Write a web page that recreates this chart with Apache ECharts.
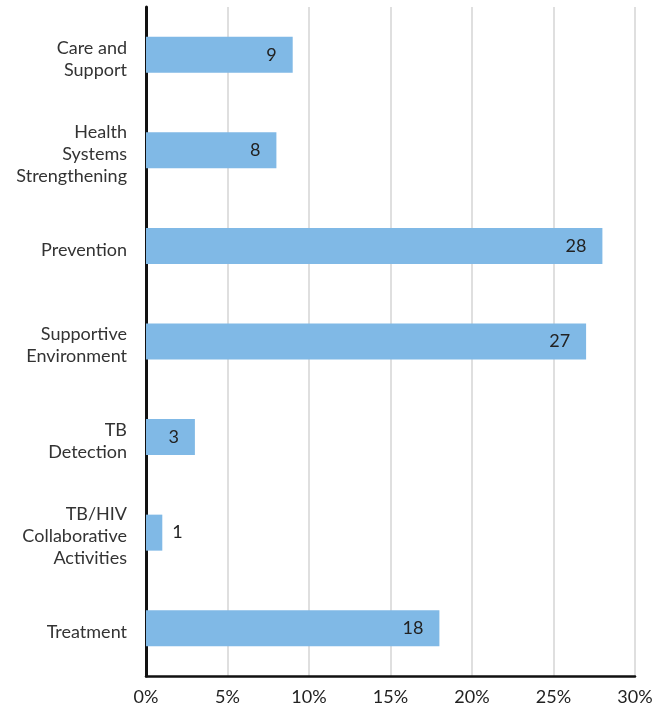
<!DOCTYPE html>
<html><head><meta charset="utf-8">
<script src="https://cdn.jsdelivr.net/npm/echarts@6/dist/echarts.min.js"></script>
<style>html,body{margin:0;padding:0;background:#fff}#c{width:665px;height:708px}</style>
</head><body><div id="c"></div>
<script>
const categories = ["Care and\nSupport", "Health\nSystems\nStrengthening", "Prevention", "Supportive\nEnvironment", "TB\nDetection", "TB/HIV\nCollaborative\nActivities", "Treatment"];
const values = [9, 8, 28, 27, 3, 1, 18];
const xTicks = [0, 5, 10, 15, 20, 25, 30];

const chart = echarts.init(document.getElementById('c'), null, {renderer: 'canvas'});
const font = 'Lato, "Open Sans", sans-serif';
chart.setOption({
  animation: false,
  grid: {left: 146, right: 30, top: 7, bottom: 32, containLabel: false},
  xAxis: {
    type: 'value', min: xTicks[0], max: xTicks[xTicks.length - 1], interval: 5,
    axisLine: {show: true, onZero: false, lineStyle: {color: '#111', width: 2.5}},
    axisTick: {show: false},
    splitLine: {show: true, lineStyle: {color: '#d4d4d4', width: 1.5}},
    axisLabel: {formatter: v => v + '%', color: '#222', fontSize: 18, fontFamily: font, margin: 12}
  },
  yAxis: {
    type: 'category', data: categories, inverse: true,
    axisLine: {show: true, lineStyle: {color: '#111', width: 3}},
    axisTick: {show: false},
    axisLabel: {
      color: '#333', fontSize: 18, fontFamily: font, margin: 19, align: 'right', lineHeight: 22,
      formatter: v => '{s| }\n' + v.split('\n').map(l => '{a|' + l + '}').join('\n'),
      rich: {
        s: {fontSize: 2, lineHeight: 8},
        a: {color: '#333', fontSize: 18, fontFamily: font, lineHeight: 22, align: 'right'}
      }
    }
  },
  series: [{
    type: 'bar', barWidth: 36,
    itemStyle: {color: '#80b9e6'},
    data: values.map(v => ({
      value: v,
      label: v < 2 ? {position: 'right', distance: 10} : {position: 'insideRight', distance: 16}
    })),
    label: {show: true, color: '#222', fontSize: 18, fontFamily: font}
  }]
});
</script></body></html>
